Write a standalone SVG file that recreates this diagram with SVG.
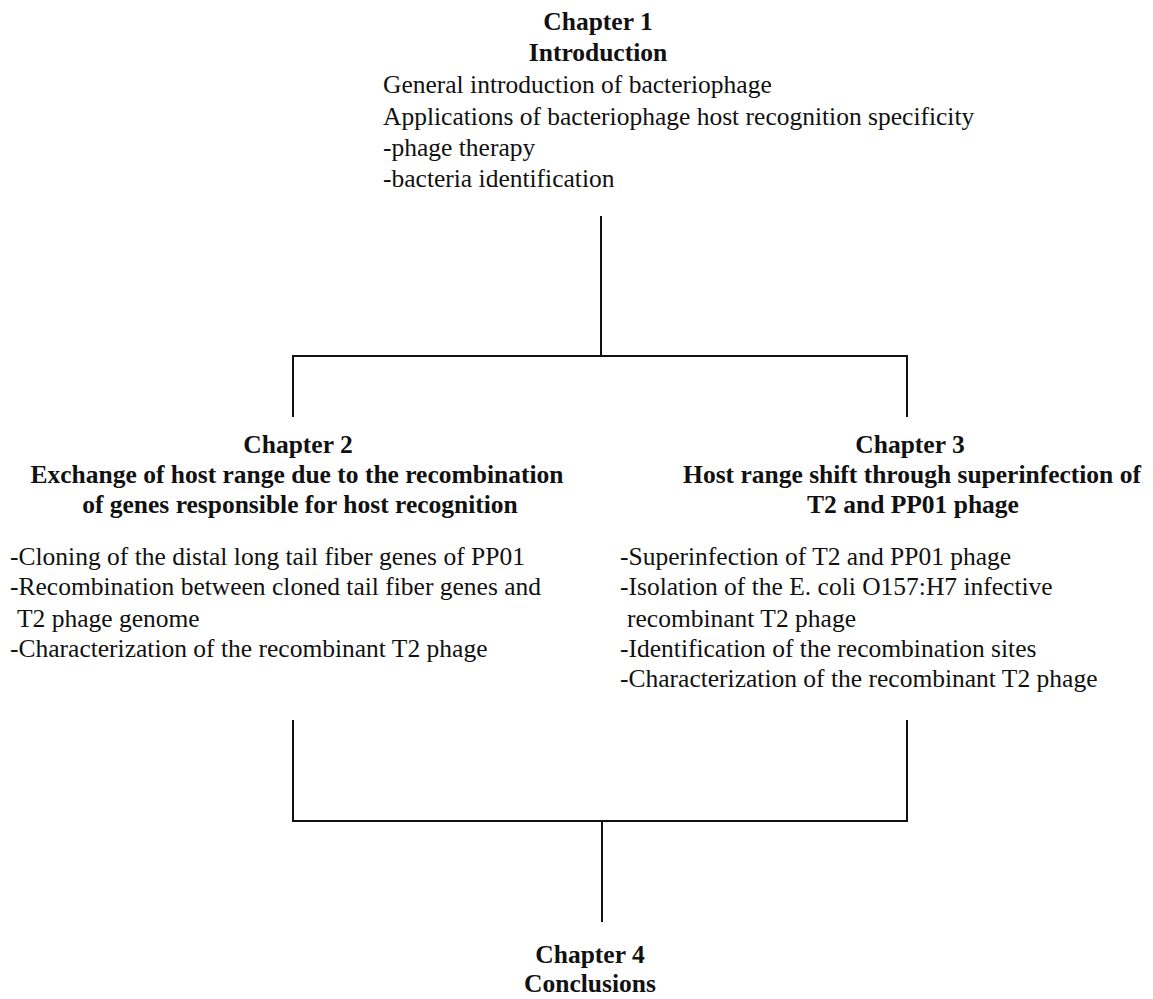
<svg xmlns="http://www.w3.org/2000/svg" width="1153" height="999" viewBox="0 0 1153 999">
<style>
.h{font-family:"Liberation Serif","Times New Roman",serif;font-weight:bold;font-size:25.5px;fill:#111;text-anchor:middle}
.b{font-family:"Liberation Serif","Times New Roman",serif;font-size:25.5px;fill:#111}
.ln{stroke:#111;stroke-width:2;fill:none}
</style>
<rect width="1153" height="999" fill="#fff"/>
<g id="connectors">
<path class="ln" d="M601,216 V356 M293,417 V356 H907 V417"/>
<path class="ln" d="M293,720 V821 H907 V720 M602,821 V922"/>
</g>
<g id="chapter1">
<text class="h" x="598" y="30">Chapter 1</text>
<text class="h" x="598" y="61">Introduction</text>
<text class="b" x="383" y="93">General introduction of bacteriophage</text>
<text class="b" x="383" y="125">Applications of bacteriophage host recognition specificity</text>
<text class="b" x="383" y="156">-phage therapy</text>
<text class="b" x="383" y="187">-bacteria identification</text>
</g>
<g id="chapter2">
<text class="h" x="298" y="453">Chapter 2</text>
<text class="h" x="297" y="483">Exchange of host range due to the recombination</text>
<text class="h" x="300" y="513">of genes responsible for host recognition</text>
<text class="b" x="10" y="565">-Cloning of the distal long tail fiber genes of PP01</text>
<text class="b" x="10" y="595">-Recombination between cloned tail fiber genes and</text>
<text class="b" x="17" y="627">T2 phage genome</text>
<text class="b" x="10" y="657">-Characterization of the recombinant T2 phage</text>
</g>
<g id="chapter3">
<text class="h" x="910" y="453">Chapter 3</text>
<text class="h" x="912" y="483">Host range shift through superinfection of</text>
<text class="h" x="913" y="513">T2 and PP01 phage</text>
<text class="b" x="620" y="565">-Superinfection of T2 and PP01 phage</text>
<text class="b" x="620" y="595">-Isolation of the E. coli O157:H7 infective</text>
<text class="b" x="627" y="627">recombinant T2 phage</text>
<text class="b" x="620" y="657">-Identification of the recombination sites</text>
<text class="b" x="620" y="687">-Characterization of the recombinant T2 phage</text>
</g>
<g id="chapter4">
<text class="h" x="590" y="963">Chapter 4</text>
<text class="h" x="590" y="992">Conclusions</text>
</g>
</svg>
